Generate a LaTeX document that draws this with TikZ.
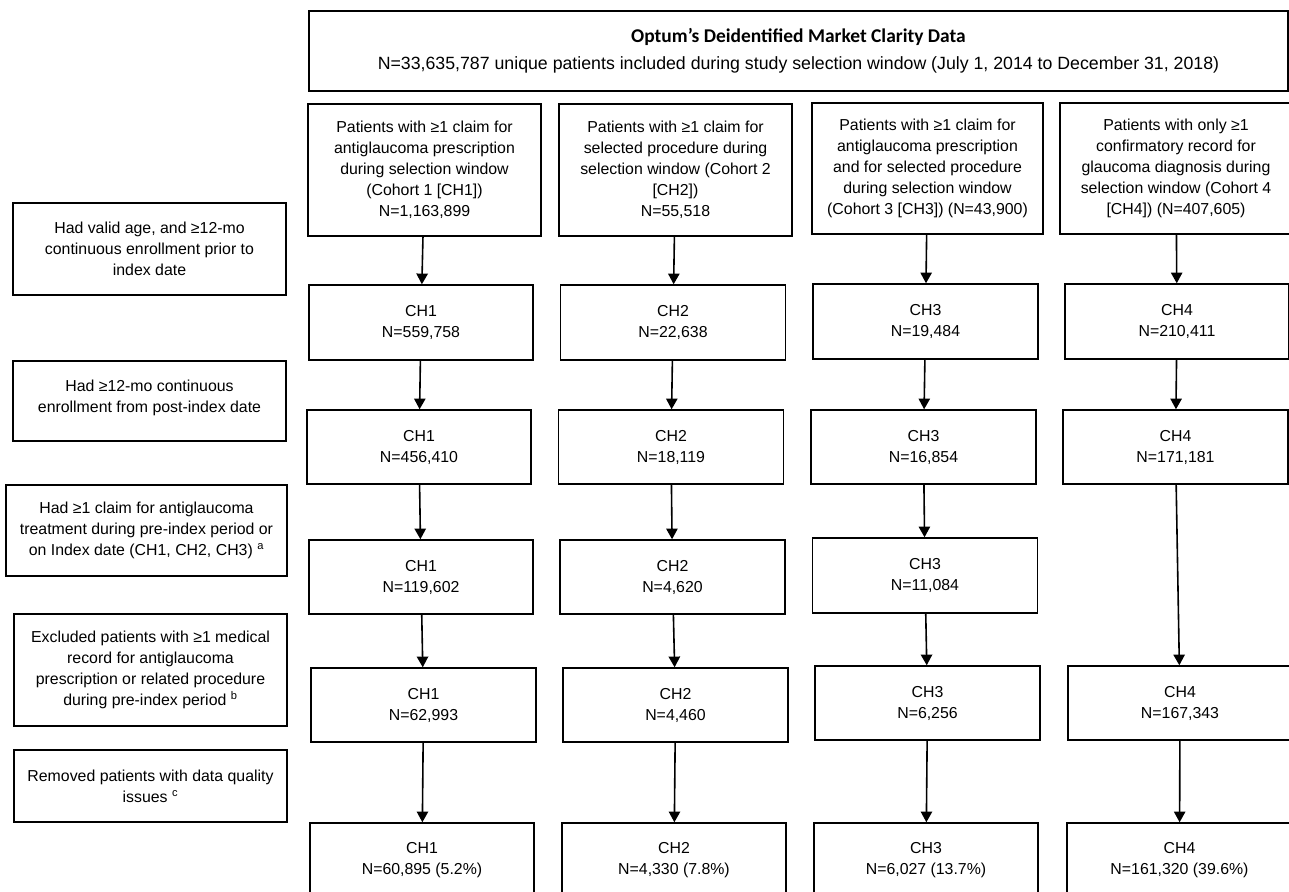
\documentclass[tikz,border=0pt]{standalone}
\usepackage{fontspec}
\setmainfont{Liberation Sans}
\newfontfamily\titlefont{Carlito}
\usetikzlibrary{arrows.meta}

\begin{document}
\begin{tikzpicture}[x=0.75pt, y=-0.75pt,
    font=\fontsize{11.9pt}{15.75pt}\selectfont,
    flowbox/.style 2 args={draw, line width=1.1pt, align=center, inner sep=0pt,
      minimum width=#1*0.75pt, minimum height=#2*0.75pt},
    link/.style={line width=1.2pt, -{Triangle[length=8pt, width=8.5pt]}}]
    \useasboundingbox (0,0) rectangle (1289,892);
    % source data
    \node[flowbox={979}{80}, font=\fontsize{13.3pt}{20pt}\selectfont] (t) at (798.5,51) {{\titlefont\fontsize{14.6pt}{20pt}\selectfont\bfseries Optum’s Deidentified Market Clarity Data}\\N=33,635,787 unique patients included during study selection window (July 1, 2014 to December 31, 2018)};
    % selection criteria on the left
    \node[flowbox={273}{92}] (s1) at (149.5,249) {Had valid age, and ≥12-mo\\continuous enrollment prior to\\index date};
    \node[flowbox={273}{80}] (s2) at (149.5,401) {Had ≥12-mo continuous\\enrollment from post-index date\\[-8pt]};
    \node[flowbox={281}{91}] (s3) at (146.5,530.5) {Had ≥1 claim for antiglaucoma\\treatment during pre-index period or\\on Index date (CH1, CH2, CH3) \textsuperscript{a}};
    \node[flowbox={273}{112}] (s4) at (150.5,670) {Excluded patients with ≥1 medical\\record for antiglaucoma\\prescription or related procedure\\during pre-index period \textsuperscript{b}};
    \node[flowbox={273}{72}] (s5) at (150.5,786) {Removed patients with data quality\\issues \textsuperscript{c}};
    % cohort 1
    \node[flowbox={233}{132}] (a1) at (424.5,170) {Patients with ≥1 claim for\\antiglaucoma prescription\\during selection window\\(Cohort 1 [CH1])\\N=1,163,899};
    \node[flowbox={224}{75}] (a2) at (421,322.5) {CH1\\N=559,758};
    \node[flowbox={224}{74}] (a3) at (419,447) {CH1\\N=456,410};
    \node[flowbox={224}{74}] (a4) at (421,577) {CH1\\N=119,602};
    \node[flowbox={225}{74}] (a5) at (423.5,705) {CH1\\N=62,993};
    \node[flowbox={224}{74}] (a6) at (422,860) {CH1\\N=60,895 (5.2\%)};
    % cohort 2
    \node[flowbox={233}{132}] (b1) at (675.5,170) {Patients with ≥1 claim for\\selected procedure during\\selection window (Cohort 2\\{[CH2]})\\N=55,518};
    \node[flowbox={225}{75}] (b2) at (673,322.5) {CH2\\N=22,638};
    \node[flowbox={225}{74}] (b3) at (671,447) {CH2\\N=18,119};
    \node[flowbox={225}{74}] (b4) at (672.5,577) {CH2\\N=4,620};
    \node[flowbox={225}{74}] (b5) at (675.5,705) {CH2\\N=4,460};
    \node[flowbox={224}{74}] (b6) at (674,860) {CH2\\N=4,330 (7.8\%)};
    % cohort 3
    \node[flowbox={231}{131}] (c1) at (927.5,168.5) {Patients with ≥1 claim for\\antiglaucoma prescription\\and for selected procedure\\during selection window\\(Cohort 3 [CH3]) (N=43,900)};
    \node[flowbox={225}{75}] (c2) at (925.5,321.5) {CH3\\N=19,484};
    \node[flowbox={225}{74}] (c3) at (923.5,447) {CH3\\N=16,854};
    \node[flowbox={225}{75}] (c4) at (925,575.5) {CH3\\N=11,084};
    \node[flowbox={225}{74}] (c5) at (927.5,703) {CH3\\N=6,256};
    \node[flowbox={224}{74}] (c6) at (926,860) {CH3\\N=6,027 (13.7\%)};
    % cohort 4
    \node[flowbox={232}{131}] (d1) at (1176,168.5) {Patients with only ≥1\\confirmatory record for\\glaucoma diagnosis during\\selection window (Cohort 4\\{[CH4]}) (N=407,605)};
    \node[flowbox={224}{75}] (d2) at (1177,321.5) {CH4\\N=210,411};
    \node[flowbox={225}{74}] (d3) at (1175.5,447) {CH4\\N=171,181};
    \node[flowbox={224}{74}] (d5) at (1180,703) {CH4\\N=167,343};
    \node[flowbox={225}{74}] (d6) at (1179.5,860) {CH4\\N=161,320 (39.6\%)};
    % arrows
    \draw[link] (a1) -- (a2);
    \draw[link] (a2) -- (a3);
    \draw[link] (a3) -- (a4);
    \draw[link] (a4) -- (a5);
    \draw[link] (a5) -- (a6);
    \draw[link] (b1) -- (b2);
    \draw[link] (b2) -- (b3);
    \draw[link] (b3) -- (b4);
    \draw[link] (b4) -- (b5);
    \draw[link] (b5) -- (b6);
    \draw[link] (c1) -- (c2);
    \draw[link] (c2) -- (c3);
    \draw[link] (c3) -- (c4);
    \draw[link] (c4) -- (c5);
    \draw[link] (c5) -- (c6);
    \draw[link] (d1) -- (d2);
    \draw[link] (d2) -- (d3);
    \draw[link] (d3) -- (d5);
    \draw[link] (d5) -- (d6);
  \end{tikzpicture}
\end{document}
